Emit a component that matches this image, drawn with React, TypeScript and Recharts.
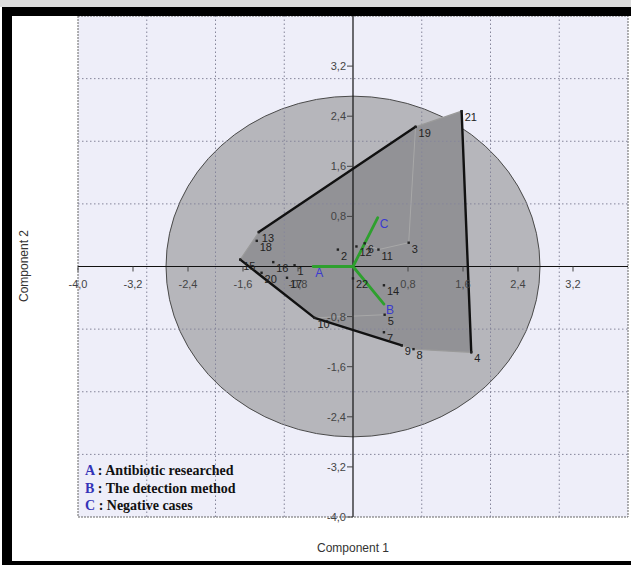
import React from 'react';
import { ScatterChart, Scatter, XAxis, YAxis, ReferenceLine, ReferenceArea } from 'recharts';

// ---- data ----
const POINT_IDS = ['1','2','3','4','5','6','7','8','9','10','11','12','13','14','15','16','17','18','19','20','21','22'];
const PC1 = [-0.85, -0.22, 0.81, 1.72, 0.46, 0.17, 0.45, 0.88, 0.71, -0.56, 0.37, 0.05, -1.37, 0.45, -1.64, -1.16, -0.96, -1.40, 0.91, -1.33, 1.58, 0.0];
const PC2 = [0.02, 0.27, 0.38, -1.37, -0.77, 0.37, -1.05, -1.32, -1.26, -0.82, 0.27, 0.32, 0.55, -0.30, 0.11, 0.07, -0.18, 0.41, 2.23, -0.10, 2.48, -0.19];

const VECTOR_NAMES = ['A', 'B', 'C'];
const VECTOR_PC1 = [-0.58, 0.45, 0.36];
const VECTOR_PC2 = [0.0, -0.6, 0.78];

const TICK_VALUES = [-4, -3.2, -2.4, -1.6, -0.8, 0.8, 1.6, 2.4, 3.2];
const TICK_LABELS = ['-4,0', '-3,2', '-2,4', '-1,6', '-0,8', '0,8', '1,6', '2,4', '3,2'];
const GRID_VALUES = [-3, -2, -1, 1, 2, 3];
const ELLIPSE_RADIUS = 2.72;

const HULL_ORDER = ['15', '13', '19', '21', '4', '8', '9', '10'];
const BOLD_EDGES = [['13', '19'], ['21', '4'], ['9', '10'], ['10', '15']];
const THIN_EDGES = [['15', '13'], ['19', '21'], ['4', '8'], ['8', '9']];
const FAINT_EDGES = [['19', '3'], ['3', '11'], ['11', '6'], ['10', '5']];

const LEGEND_KEYS = ['A', 'B', 'C'];
const LEGEND_TEXTS = ['Antibiotic researched', 'The detection method', 'Negative cases'];

// ---- derived tables ----
const points = POINT_IDS.map((id, i) => ({ id, x: PC1[i], y: PC2[i] }));
const byId = (id: string) => points[POINT_IDS.indexOf(id)];
const hull = HULL_ORDER.map(byId);
const edgeData = (edges: string[][]) => edges.flatMap(([a, b]) => [byId(a), byId(b)]);
const vectorSegs = VECTOR_NAMES.flatMap((n, i) => [{ x: 0, y: 0, id: n }, { x: VECTOR_PC1[i], y: VECTOR_PC2[i], id: n }]);
const vectorEnds = VECTOR_NAMES.map((n, i) => ({ id: n, x: VECTOR_PC1[i], y: VECTOR_PC2[i] }));
const xTicks = TICK_VALUES.map((v, i) => ({ x: v, y: 0, id: TICK_LABELS[i] }));
const yTicks = TICK_VALUES.map((v, i) => ({ x: 0, y: v, id: TICK_LABELS[i] }));

const FONT = 'Liberation Sans, Arial, sans-serif';
const none = () => <g />;

const polygonLine = (fill: string) => (props: any) => {
  const pts = (props.points || []) as { x: number; y: number }[];
  if (!pts.length) return <g />;
  const d = pts.map((p, i) => `${i ? 'L' : 'M'}${p.x},${p.y}`).join(' ') + ' Z';
  return <path d={d} fill={fill} stroke="none" />;
};

const segmentLines = (stroke: string, width: number) => (props: any) => {
  const pts = (props.points || []) as { x: number; y: number }[];
  let d = '';
  for (let i = 0; i + 1 < pts.length; i += 2) d += `M${pts[i].x},${pts[i].y} L${pts[i + 1].x},${pts[i + 1].y} `;
  return <path d={d} fill="none" stroke={stroke} strokeWidth={width} strokeLinecap="round" />;
};

const pointShape = (p: any) => (
  <g>
    <rect x={p.cx - 1.2} y={p.cy - 1.2} width={2.4} height={2.4} fill="#222" />
    <text x={p.cx + 3} y={p.cy + 10} fontSize={11} fontFamily={FONT} fill="#222">{p.payload.id}</text>
  </g>
);

const vectorLabel = (p: any) => (
  <text x={p.cx + 2} y={p.cy + 10} fontSize={12} fontFamily={FONT} fill="#3a3ad0">{p.payload.id}</text>
);

const xTickShape = (p: any) => (
  <g>
    <line x1={p.cx} y1={p.cy} x2={p.cx} y2={p.cy + 5} stroke="#444" />
    <text x={p.cx} y={p.cy + 21} textAnchor="middle" fontSize={11} fontFamily={FONT} fill="#444">{p.payload.id}</text>
  </g>
);

const yTickShape = (p: any) => (
  <g>
    <line x1={p.cx - 6} y1={p.cy} x2={p.cx} y2={p.cy} stroke="#444" />
    <text x={p.cx - 7} y={p.cy + 4} textAnchor="end" fontSize={11} fontFamily={FONT} fill="#444">{p.payload.id}</text>
  </g>
);

const ellipseShape = (p: any) => (
  <ellipse
    cx={p.x + p.width / 2}
    cy={p.y + p.height / 2}
    rx={Math.abs(p.width) / 2}
    ry={Math.abs(p.height) / 2}
    fill="#b6b6bb"
    stroke="#4a4a4a"
    strokeWidth={1}
  />
);

export default function App() {
  return (
    <div style={{ position: 'absolute', left: 0, top: 0, width: 631, height: 565, background: '#fff', overflow: 'hidden' }}>
      <ScatterChart width={631} height={565} margin={{ top: 16, right: 3, bottom: 48, left: 78 }}>
        <XAxis type="number" dataKey="x" domain={[-4, 4]} hide />
        <YAxis type="number" dataKey="y" domain={[-4, 4]} hide />
        <ReferenceArea x1={-4} x2={4} y1={-4} y2={4} fill="#eeeef9" fillOpacity={1} stroke="#666" strokeDasharray="2 1" zIndex={50} />
        <ReferenceArea x1={-ELLIPSE_RADIUS} x2={ELLIPSE_RADIUS} y1={-ELLIPSE_RADIUS} y2={ELLIPSE_RADIUS} shape={ellipseShape} zIndex={60} />
        <Scatter data={hull} line={polygonLine('#929296')} lineType="joint" shape={none} isAnimationActive={false} zIndex={70} />
        {GRID_VALUES.map((v) => (
          <ReferenceLine key={'gx' + v} x={v} stroke="#85859a" strokeDasharray="1.5 2.5" zIndex={80} />
        ))}
        {GRID_VALUES.map((v) => (
          <ReferenceLine key={'gy' + v} y={v} stroke="#85859a" strokeDasharray="1.5 2.5" zIndex={80} />
        ))}
        <Scatter data={edgeData(FAINT_EDGES)} line={segmentLines('#a8a8a8', 1)} lineType="joint" shape={none} isAnimationActive={false} zIndex={85} />
        <ReferenceLine x={0} stroke="#111" strokeWidth={1.2} zIndex={90} />
        <ReferenceLine y={0} stroke="#111" strokeWidth={1.2} zIndex={90} />
        <Scatter data={edgeData(THIN_EDGES)} line={segmentLines('#9a9a9a', 1.2)} lineType="joint" shape={none} isAnimationActive={false} zIndex={95} />
        <Scatter data={edgeData(BOLD_EDGES)} line={segmentLines('#111', 2.4)} lineType="joint" shape={none} isAnimationActive={false} zIndex={96} />
        <Scatter data={vectorSegs} line={segmentLines('#2ea02e', 2.8)} lineType="joint" shape={none} isAnimationActive={false} zIndex={97} />
        <Scatter data={xTicks} shape={xTickShape} isAnimationActive={false} zIndex={98} />
        <Scatter data={yTicks} shape={yTickShape} isAnimationActive={false} zIndex={98} />
        <Scatter data={points} shape={pointShape} isAnimationActive={false} zIndex={99} />
        <Scatter data={vectorEnds} shape={vectorLabel} isAnimationActive={false} zIndex={99} />
      </ScatterChart>
      <svg width={631} height={565} style={{ position: 'absolute', left: 0, top: 0, pointerEvents: 'none' }}>
        <text x={353} y={552} textAnchor="middle" fontSize={12} fontFamily={FONT} fill="#333">Component 1</text>
        <text x={28} y={266} transform="rotate(-90 28 266)" textAnchor="middle" fontSize={12} fontFamily={FONT} fill="#333">Component 2</text>
        {LEGEND_KEYS.map((k, i) => (
          <text key={k} x={85} y={475 + i * 17.5} fontSize={14} fontWeight="bold" fontFamily="Liberation Serif, Times New Roman, serif" fill="#111">
            <tspan fill="#3434b8">{k}</tspan>
            <tspan> : {LEGEND_TEXTS[i]}</tspan>
          </text>
        ))}
        <rect x={0} y={0} width={631} height={7} fill="#dcdcdc" />
        <rect x={2} y={7} width={629} height={9} fill="#000" />
        <rect x={2} y={7} width={10} height={558} fill="#000" />
        <rect x={2} y={561} width={629} height={4} fill="#000" />
      </svg>
    </div>
  );
}
